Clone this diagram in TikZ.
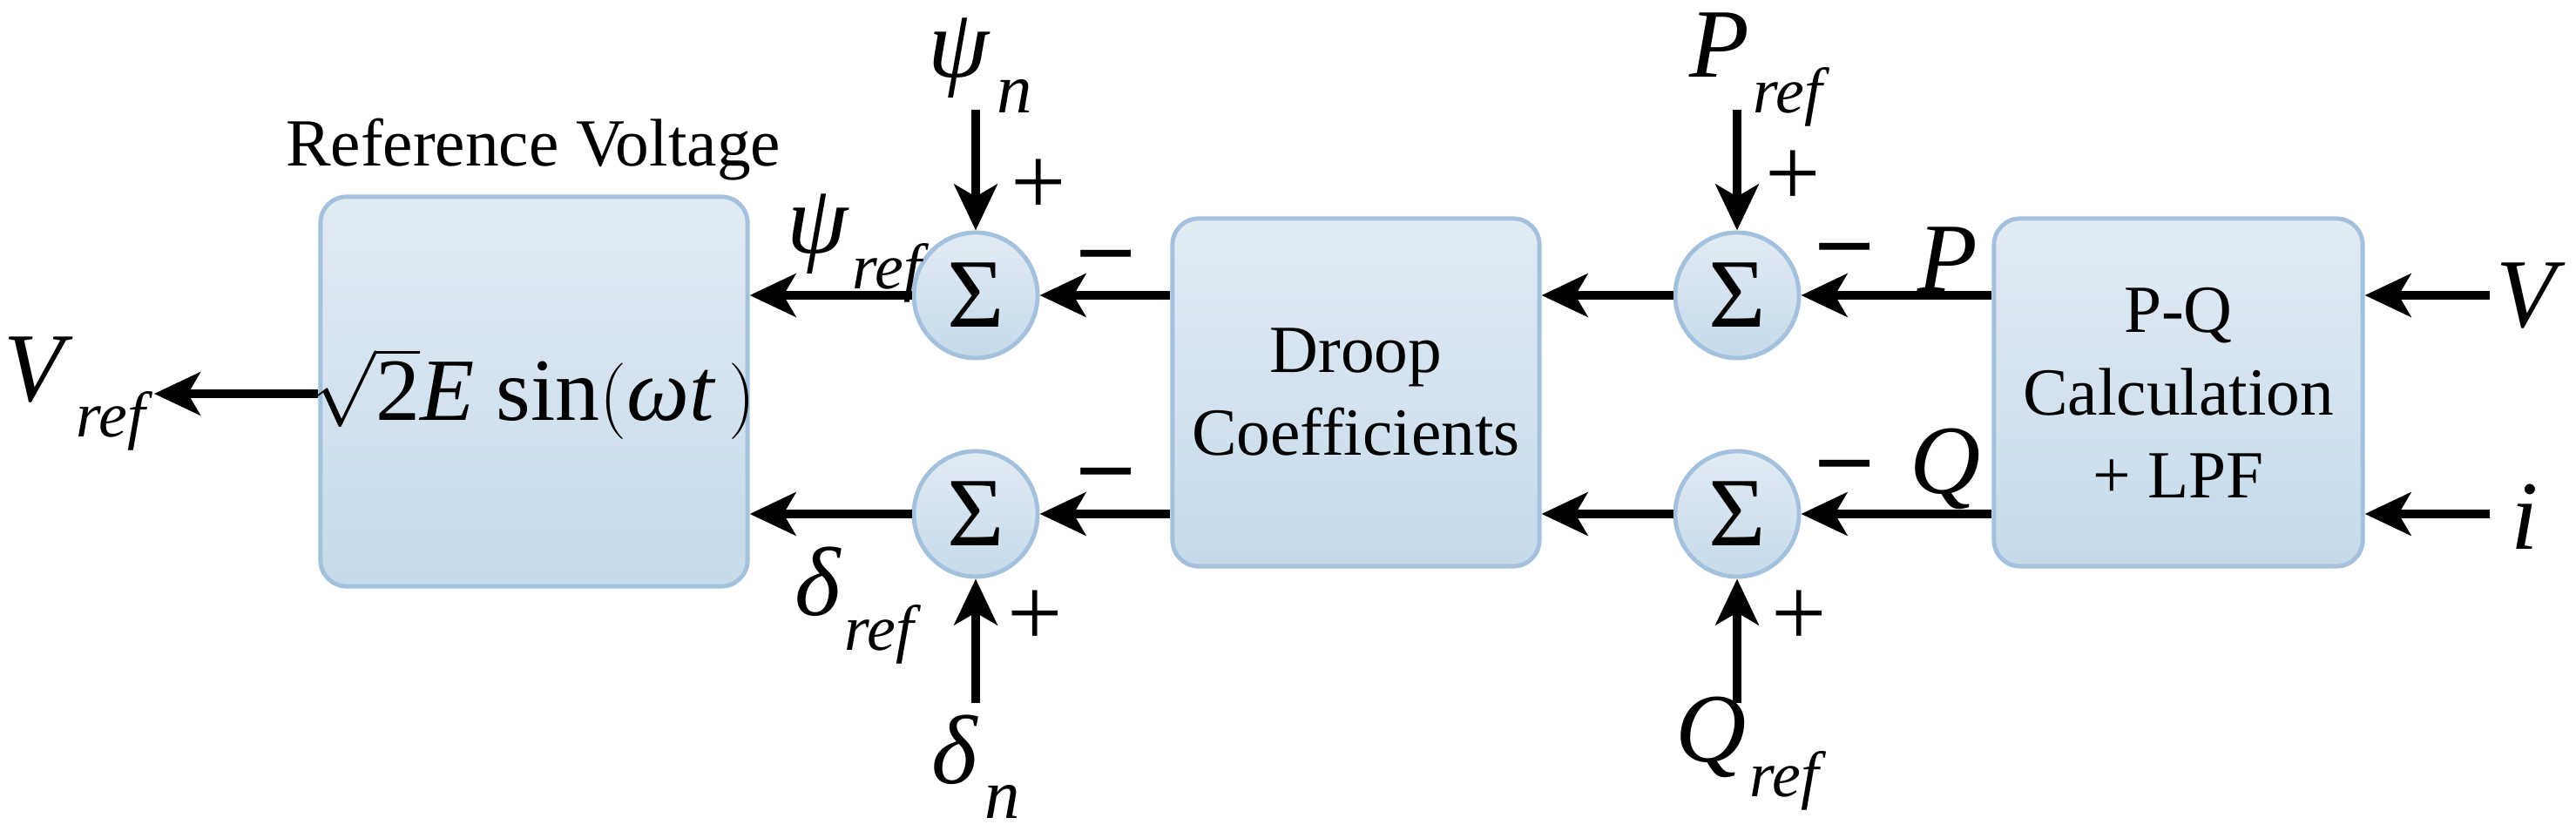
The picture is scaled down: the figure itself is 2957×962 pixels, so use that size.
\documentclass[tikz,border=0pt]{standalone}
\usepackage{fontspec}
\setmainfont{LiberationSerif}[Extension=.ttf,UprightFont=*-Regular,ItalicFont=*-Italic,BoldFont=*-Bold,BoldItalicFont=*-BoldItalic]
\usetikzlibrary{arrows.meta,shapes.geometric}
\definecolor{bordc}{HTML}{A3C0DC}
\definecolor{topc}{HTML}{E1EBF4}
\definecolor{botc}{HTML}{C6DAEA}
\newcommand{\rf}{\kern1pt\raisebox{-0.36em}{\fontsize{21pt}{22pt}\selectfont\textit{ref}}}
\newcommand{\sn}{\kern2pt\raisebox{-0.36em}{\fontsize{23pt}{22pt}\selectfont\textit{n}}}
\begin{document}
\begin{tikzpicture}[x=0.01cm,y=-0.01cm,
  blk/.style={draw=bordc,line width=1.4pt,rounded corners=0.3cm,top color=topc,bottom color=botc,
    align=center,font=\fontsize{22pt}{27pt}\selectfont,inner sep=0pt},
  sm/.style={ellipse,draw=bordc,line width=1.4pt,top color=topc,bottom color=botc,
    minimum width=1.42cm,minimum height=1.44cm,inner sep=0pt,font=\fontsize{32pt}{32pt}\selectfont},
  ar/.style={line width=2.8pt,-{Stealth[length=15pt,width=14pt,inset=4pt]}},
  lb/.style={font=\fontsize{32pt}{32pt}\selectfont,inner sep=0pt},
  pm/.style={font=\fontsize{32pt}{32pt}\selectfont,inner sep=0pt}]
\useasboundingbox (0,0) rectangle (2957,962);
\node[blk,minimum width=4.9cm,minimum height=4.47cm] (ref) at (613,449.5) {};
\node[font=\fontsize{29pt}{29pt}\selectfont,inner sep=0pt] (reft) at (613,452) {$\sqrt{\mbox{2}}$\textit{E} sin$\bigl($\textit{ωt}$\,\bigr)$};
\node[font=\fontsize{22pt}{27pt}\selectfont,inner sep=0pt] (rvl) at (612,172) {Reference Voltage};
\node[blk,minimum width=4.21cm,minimum height=3.99cm] (dr) at (1556.5,450.5) {Droop\\Coefficients};
\node[blk,minimum width=4.23cm,minimum height=3.99cm] (pq) at (2500.5,450.5) {P-Q\\Calculation\\+ LPF};
\node[sm] (s1) at (1120,339) {Σ};
\node[sm] (s2) at (1120,590) {Σ};
\node[sm] (s3) at (1994,339) {Σ};
\node[sm] (s4) at (1994,590) {Σ};
% labels
\node[lb] (vref) at (90,452) {\textit{V}\rf};
\node[lb] (psin) at (1125,75) {\textit{ψ}\sn};
\node[lb] (psir) at (985,285) {\textit{ψ}\rf};
\node[lb] (delr) at (985,695) {\textit{δ}\rf};
\node[lb] (deln) at (1120,880) {\textit{δ}\sn};
\node[lb] (pref) at (2020,80) {\textit{P}\rf};
\node[lb] (qref) at (2010,865) {\textit{Q}\rf};
\node[lb] (pl) at (2236,298) {\textit{P}};
\node[lb] (ql) at (2233,538) {\textit{Q}};
\node[lb] (vl) at (2905,340) {\textit{V}};
\node[lb] (il) at (2898,593) {\textit{i}};
\node[pm] (p1) at (1192,215) {+};
\node[pm] (p2) at (1188,710) {+};
\node[pm] (p3) at (2058,205) {+};
\node[pm] (p4) at (2065,710) {+};
\node[pm] (m1) at (1270,302) {\textbf{–}};
\node[pm] (m2) at (1270,552) {\textbf{–}};
\node[pm] (m3) at (2118,294) {\textbf{–}};
\node[pm] (m4) at (2118,543) {\textbf{–}};
% coordinates
\coordinate (vs) at (2858,339);
\coordinate (is) at (2858,590);
\coordinate (vo) at (177,452);
\coordinate (a1) at (1120,126);
\coordinate (a2) at (1120,807);
\coordinate (a3) at (1994,126);
\coordinate (a4) at (1994,807);
% connectors
\draw[ar] (vs) -- (pq.east |- vs);
\draw[ar] (is) -- (pq.east |- is);
\draw[ar] (pq.west |- s3) -- (s3);
\draw[ar] (pq.west |- s4) -- (s4);
\draw[ar] (s3) -- (dr.east |- s3);
\draw[ar] (s4) -- (dr.east |- s4);
\draw[ar] (dr.west |- s1) -- (s1);
\draw[ar] (dr.west |- s2) -- (s2);
\draw[ar] (s1) -- (ref.east |- s1);
\draw[ar] (s2) -- (ref.east |- s2);
\draw[ar] (ref.west |- vo) -- (vo);
\draw[ar] (a1) -- (s1);
\draw[ar] (a2) -- (s2);
\draw[ar] (a3) -- (s3);
\draw[ar] (a4) -- (s4);
\end{tikzpicture}
\end{document}
